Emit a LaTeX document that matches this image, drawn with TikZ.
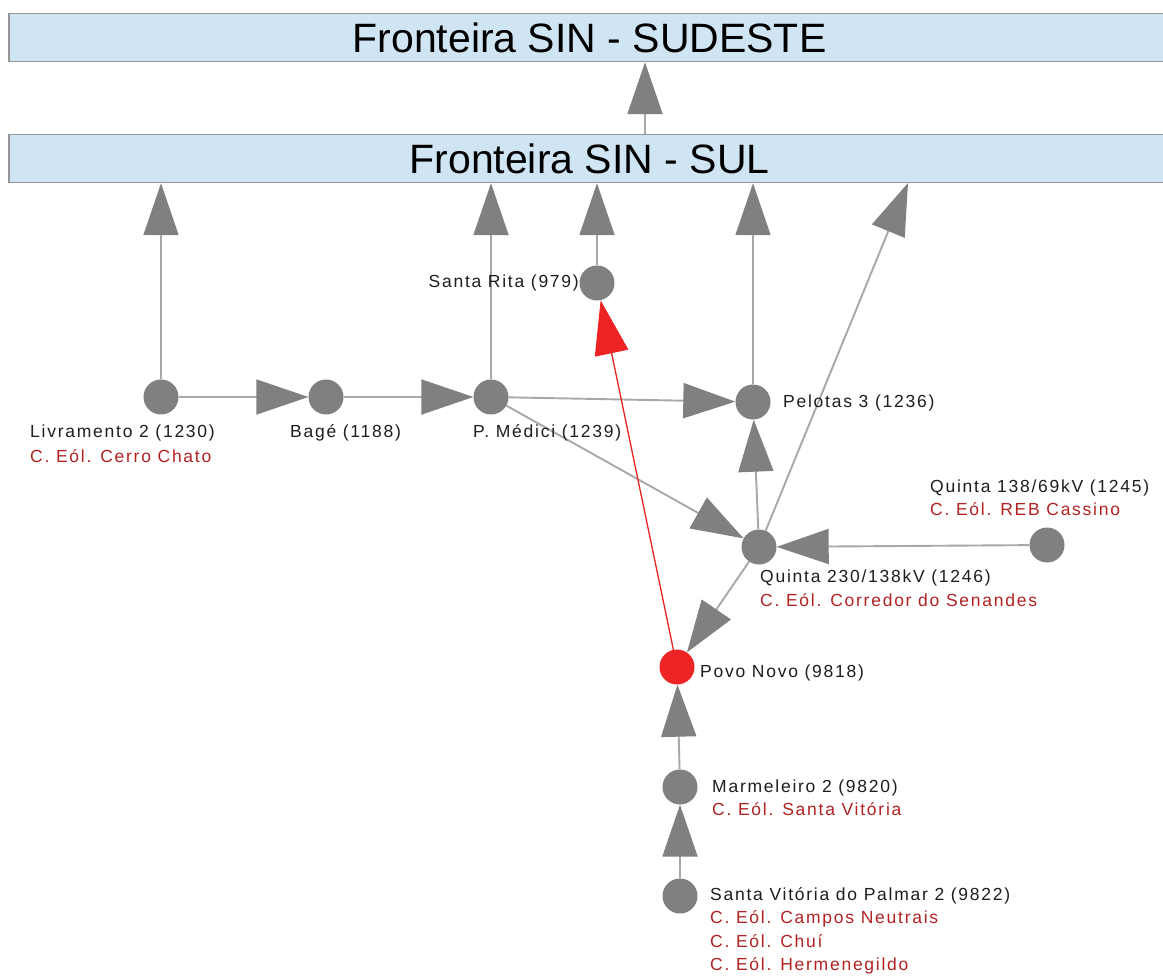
\documentclass[tikz,border=0pt]{standalone}
\usepackage{fontspec}
\setmainfont{Liberation Sans}
\newfontfamily\labfont[LetterSpace=10]{Liberation Sans}
\usetikzlibrary{arrows.meta}
\definecolor{nodegray}{RGB}{128,128,128}
\definecolor{linegray}{RGB}{168,168,168}
\definecolor{boxblue}{RGB}{208,229,243}
\definecolor{boxline}{RGB}{150,150,150}
\definecolor{labred}{RGB}{178,34,34}
\definecolor{hotred}{RGB}{238,36,36}
\definecolor{txt}{RGB}{30,30,30}
\begin{document}
\begin{tikzpicture}[x=1pt,y=1pt,
  bus/.style={circle, fill=nodegray, minimum size=35pt, inner sep=0},
  hotbus/.style={bus, fill=hotred},
  frontier/.style={draw=boxline, line width=1.5pt, fill=boxblue, minimum width=1161pt, minimum height=48pt, inner sep=0, font=\fontsize{41}{48}\selectfont},
  edge/.style={draw=linegray, line width=1.9pt, -{Triangle[length=52pt,width=35pt,color=nodegray]}},
  hotedge/.style={draw=hotred, line width=1.3pt, -{Triangle[length=54pt,width=34pt,color=hotred]}},
  lbl/.style={anchor=base west, inner sep=0, text=txt, font=\labfont\fontsize{17.5}{23}\selectfont},
  sub/.style={lbl, text=labred},
]
\useasboundingbox (0,0) rectangle (1163,-976);
\clip (0,0) rectangle (1163,-976);
\fill[white] (0,0) rectangle (1163,-976);

% frontier boxes
\node[frontier] (sudeste) at (589.5,-37.5) {Fronteira SIN - SUDESTE};
\node[frontier] (sul) at (589.5,-158.5) {Fronteira SIN - SUL};

% buses
\node[bus] (liv) at (161,-397) {};
\node[bus] (bage) at (326,-397) {};
\node[bus] (medici) at (491,-397) {};
\node[bus] (srita) at (597,-283) {};
\node[bus] (pel) at (753,-402) {};
\node[bus] (q230) at (759,-547) {};
\node[bus] (q138) at (1047,-545) {};
\node[hotbus] (povo) at (677,-667) {};
\node[bus] (marm) at (680,-787) {};
\node[bus] (svp) at (680,-896) {};

% connectors
\coordinate (ax) at (645,0);
\coordinate (diagEnd) at (908,-183);
\draw[edge] (sul.north -| ax) -- (sudeste.south -| ax);
\draw[edge] (liv) -- (liv |- sul.south);
\draw[edge] (medici) -- (medici |- sul.south);
\draw[edge] (srita) -- (srita |- sul.south);
\draw[edge] (pel) -- (pel |- sul.south);
\draw[edge] (q230) -- (diagEnd);
\draw[edge] (liv) -- (bage);
\draw[edge] (bage) -- (medici);
\draw[edge] (medici) -- (pel);
\draw[edge] (medici) -- (q230);
\draw[edge] (q230) -- (pel);
\draw[edge] (q138) -- (q230);
\draw[edge] (q230) -- (povo);
\draw[edge] (marm) -- (povo);
\draw[edge] (svp) -- (marm);
\draw[hotedge] (povo) -- (srita);

% labels
\node[lbl] (livL) at (30,-438) {Livramento 2 (1230)};
\node[sub] (livS) at (30,-462) {C. Eól. Cerro Chato};
\node[lbl] (bageL) at (290,-438) {Bagé (1188)};
\node[lbl] (mediciL) at (473,-438) {P. Médici (1239)};
\node[lbl, anchor=base east] (sritaL) at (579,-288) {Santa Rita (979)};
\node[lbl] (pelL) at (783,-408) {Pelotas 3 (1236)};
\node[lbl] (q138L) at (930,-492) {Quinta 138/69kV (1245)};
\node[sub] (q138S) at (930,-515) {C. Eól. REB Cassino};
\node[lbl] (q230L) at (760,-582) {Quinta 230/138kV (1246)};
\node[sub] (q230S) at (760,-606) {C. Eól. Corredor do Senandes};
\node[lbl] (povoL) at (700,-677) {Povo Novo (9818)};
\node[lbl] (marmL) at (712,-792) {Marmeleiro 2 (9820)};
\node[sub] (marmS) at (712,-815) {C. Eól. Santa Vitória};
\node[lbl] (svpL) at (710,-900) {Santa Vitória do Palmar 2 (9822)};
\node[sub] (svpS1) at (710,-923) {C. Eól. Campos Neutrais};
\node[sub] (svpS2) at (710,-947) {C. Eól. Chuí};
\node[sub] (svpS3) at (710,-970) {C. Eól. Hermenegildo};
\end{tikzpicture}
\end{document}
